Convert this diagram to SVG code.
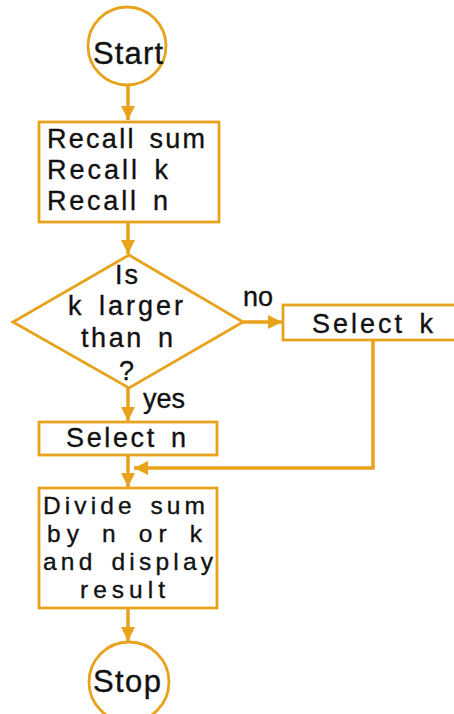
<svg xmlns="http://www.w3.org/2000/svg" width="454" height="714" viewBox="0 0 454 714">
<defs>
<style>
.shape{fill:#fff;stroke:#E8A21C;stroke-width:2.8}
.line{fill:none;stroke:#E8A21C;stroke-width:3.5}
text{font-family:"Liberation Sans",Arial,sans-serif;fill:#111;stroke:#111;stroke-width:0.35;font-size:27px;word-spacing:4px}
.big{font-size:31px}
.sm{font-size:24.5px}
</style>
<marker id="ah" viewBox="0 0 10 10" refX="10" refY="5" markerWidth="4" markerHeight="4" orient="auto" markerUnits="strokeWidth">
<path d="M0,0 L10,5 L0,10 z" fill="#E8A21C"/>
</marker>
</defs>
<rect width="454" height="714" fill="#fff"/>
<g id="connectors">
<line class="line" x1="128" y1="86" x2="128" y2="120" marker-end="url(#ah)"/>
<line class="line" x1="128" y1="222" x2="128" y2="254" marker-end="url(#ah)"/>
<line class="line" x1="243" y1="322" x2="282" y2="322" marker-end="url(#ah)"/>
<line class="line" x1="128" y1="388" x2="128" y2="421" marker-end="url(#ah)"/>
<line class="line" x1="128" y1="455" x2="128" y2="487" marker-end="url(#ah)"/>
<polyline class="line" points="373,340 373,468 134,468" marker-end="url(#ah)"/>
<line class="line" x1="128" y1="608" x2="128" y2="641" marker-end="url(#ah)"/>
</g>
<g id="start">
<circle class="shape" cx="127" cy="46" r="39"/>
<text class="big" x="93" y="64" textLength="70">Start</text>
</g>
<g id="recall">
<rect class="shape" x="39" y="122" width="180" height="100"/>
<text x="47" y="148" textLength="158">Recall sum</text>
<text x="47" y="179" textLength="121">Recall k</text>
<text x="47" y="210" textLength="121">Recall n</text>
</g>
<g id="decision">
<polygon class="shape" points="129,255 243,322 129,388 13,322"/>
<text x="115" y="284" textLength="23">Is</text>
<text x="68" y="315" textLength="115">k larger</text>
<text x="81" y="347" textLength="92">than n</text>
<text x="119" y="380">?</text>
</g>
<text x="243" y="306">no</text>
<text x="143" y="408">yes</text>
<g id="selectk">
<rect class="shape" x="283" y="305" width="180" height="35"/>
<text x="312" y="333" textLength="121">Select k</text>
</g>
<g id="selectn">
<rect class="shape" x="39" y="422" width="178" height="33"/>
<text x="66" y="447" textLength="120">Select n</text>
</g>
<g id="divide">
<rect class="shape" x="39" y="488" width="178" height="120"/>
<text class="sm" x="43" y="514" textLength="162">Divide sum</text>
<text class="sm" x="47" y="542" textLength="155">by n or k</text>
<text class="sm" x="43" y="570" textLength="170">and display</text>
<text class="sm" x="80" y="598" textLength="85">result</text>
</g>
<g id="stop">
<circle class="shape" cx="129" cy="682" r="40"/>
<text class="big" x="93" y="692" textLength="68">Stop</text>
</g>
</svg>
